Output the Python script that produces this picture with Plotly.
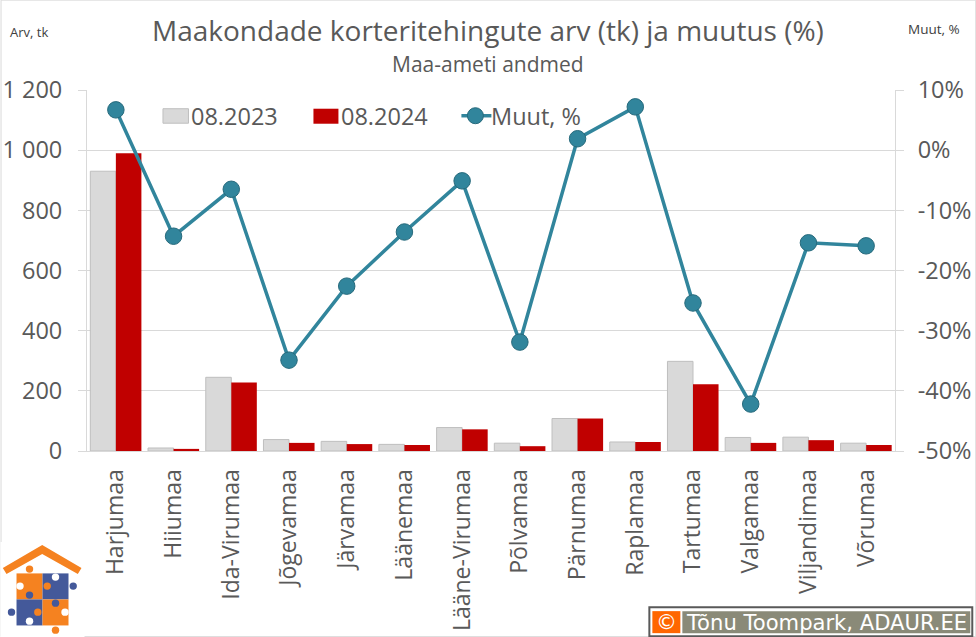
import plotly.graph_objects as go

categories = ["Harjumaa", "Hiiumaa", "Ida-Virumaa", "Jõgevamaa", "Järvamaa", "Läänemaa", "Lääne-Virumaa",
              "Põlvamaa", "Pärnumaa", "Raplamaa", "Tartumaa", "Valgamaa", "Viljandimaa", "Võrumaa"]
v2023 = [930, 10, 245, 38, 32, 22, 78, 26, 108, 30, 298, 45, 46, 26]
v2024 = [990, 7, 228, 27, 23, 20, 72, 16, 108, 30, 222, 27, 36, 20]
muut = [6.7, -14.3, -6.5, -34.9, -22.6, -13.6, -5.1, -31.9, 1.9, 7.2, -25.4, -42.2, -15.4, -15.9]
left_ticks = [0, 200, 400, 600, 800, 1000, 1200]
left_labels = ["0", "200", "400", "600", "800", "1 000", "1 200"]
right_ticks = [-50, -40, -30, -20, -10, 0, 10]
right_labels = ["-50%", "-40%", "-30%", "-20%", "-10%", "0%", "10%"]
names = ["08.2023", "08.2024", "Muut, %"]

W, H = 976, 637
L, R, T, B = 86.5, 894.7, 90.3, 451
FONT = "Open Sans"
GREY = "#595959"
GRID = "#d9d9d9"
ORANGE = "#f58220"
BLUE = "#44599a"
TEAL = "#31859c"


def px(x):
    return (x - L) / (R - L)


def py(y):
    return (B - y) / (B - T)


def rect(x0, y0, x1, y1, fill, line=None, lw=0):
    return dict(type="rect", xref="paper", yref="paper", x0=px(x0), x1=px(x1), y0=py(y0), y1=py(y1),
                fillcolor=fill, line=dict(color=line or fill, width=lw), layer="above")


def circ(cx, cy, r, fill, line=None, lw=0):
    return dict(type="circle", xref="paper", yref="paper", x0=px(cx - r), x1=px(cx + r), y0=py(cy - r),
                y1=py(cy + r), fillcolor=fill, line=dict(color=line or fill, width=lw), layer="above")


def poly(points, fill):
    d = "M" + " L".join(f"{px(a):.5f},{py(b):.5f}" for a, b in points) + " Z"
    return dict(type="path", xref="paper", yref="paper", path=d, fillcolor=fill, line=dict(width=0), layer="above")


def label(text, x, y, size, color=GREY, family=FONT, xanchor="left"):
    return dict(text=text, x=px(x), y=py(y), xref="paper", yref="paper", showarrow=False, xanchor=xanchor,
                yanchor="middle", font=dict(family=family, size=size, color=color))


fig = go.Figure()
fig.add_bar(x=categories, y=v2023, name=names[0], marker=dict(color=GRID, line=dict(color="#bfbfbf", width=1)))
fig.add_bar(x=categories, y=v2024, name=names[1], marker=dict(color="#c00000", line=dict(width=0)))
fig.add_scatter(x=categories, y=muut, name=names[2], yaxis="y2", mode="lines+markers",
                line=dict(color=TEAL, width=3.5),
                marker=dict(color=TEAL, size=16.5, line=dict(color="#276a7c", width=1)))

shapes = [
    dict(type="rect", xref="paper", yref="paper", x0=px(0.5), x1=px(975.5), y0=py(0.5), y1=py(636.5),
         fillcolor="rgba(0,0,0,0)", line=dict(color=GRID, width=1), layer="below"),
    # legend keys
    rect(162.5, 109, 188, 123.5, GRID, "#bfbfbf", 1),
    rect(313, 109, 338, 124, "#c00000"),
    dict(type="line", xref="paper", yref="paper", x0=px(461), x1=px(491), y0=py(116), y1=py(116),
         line=dict(color=TEAL, width=3.5), layer="above"),
    circ(475, 116, 8, TEAL, "#276a7c", 1),
    # logo
    rect(0, 542, 84, 637, "white"),
    poly([(2.3, 568), (41.7, 545), (81, 568), (77.3, 574), (41.7, 554), (6, 574)], ORANGE),
    rect(16, 573.3, 42, 599.3, ORANGE),
    rect(42, 573.3, 68, 599.3, BLUE),
    rect(16, 599.3, 42, 625.3, BLUE),
    rect(42, 599.3, 68, 625.3, ORANGE),
    circ(29, 569, 3.7, ORANGE),
    circ(55, 577, 3.7, "white"),
    circ(72.7, 586, 3.7, BLUE),
    circ(19.5, 586, 3.7, "white"),
    circ(46.7, 586, 3.7, ORANGE),
    circ(29, 595, 3.7, BLUE),
    circ(11, 612, 3.7, BLUE),
    circ(64.5, 612, 3.7, "white"),
    circ(37.3, 612, 3.7, ORANGE),
    circ(55, 603, 3.7, BLUE),
    circ(29, 621, 3.7, "white"),
    circ(55, 630, 3.7, ORANGE),
    # credit box
    rect(649, 607, 972, 636, "white", "#595959", 2),
    rect(652, 611, 680, 633, "#ff6600"),
    rect(682, 611, 970, 633, "#8a8a78"),
]

annotations = [
    label("Maakondade korteritehingute arv (tk) ja muutus (%)", 488, 30, 28, xanchor="center"),
    label("Maa-ameti andmed", 488, 64, 21, xanchor="center"),
    label("Arv, tk", 7, 32, 13, "#404040"),
    label("Muut, %", 906, 29, 13.5, "#404040"),
    label(names[0], 189, 116, 23.5),
    label(names[1], 339, 116, 23.5),
    label(names[2], 489, 116, 23.5),
    label("©", 666, 622, 21, "white", "DejaVu Sans", "center"),
    label("Tõnu Toompark, ADAUR.EE", 684, 622, 21.1, "white", "DejaVu Sans"),
]

fig.update_layout(
    width=W, height=H, autosize=False,
    margin=dict(l=L, r=W - R, t=T, b=H - B, pad=0),
    paper_bgcolor="white", plot_bgcolor="white",
    barmode="group", bargap=0.115, bargroupgap=0,
    font=dict(family=FONT, color=GREY),
    showlegend=False,
    shapes=shapes, annotations=annotations,
    xaxis=dict(type="category", categoryorder="array", categoryarray=categories, range=[-0.5, 13.5], tickangle=-90,
               ticks="", automargin=False, showgrid=False, showline=True, linecolor=GRID, linewidth=1, zeroline=False,
               tickfont=dict(family=FONT, size=23, color=GREY), ticklabelstandoff=8),
    yaxis=dict(range=[0, 1200], tickvals=left_ticks, ticktext=left_labels, ticks="outside", ticklen=8, tickcolor=GRID,
               tickwidth=1, automargin=False, showgrid=True, gridcolor=GRID, gridwidth=1, showline=True, linecolor=GRID,
               linewidth=1, zeroline=False, tickfont=dict(family=FONT, size=23.5, color=GREY), ticklabelstandoff=11),
    yaxis2=dict(range=[-50, 10], tickvals=right_ticks, ticktext=right_labels, overlaying="y", side="right",
                ticks="outside", ticklen=8, tickcolor=GRID, tickwidth=1, automargin=False, showgrid=False,
                showline=True, linecolor=GRID, linewidth=1, zeroline=False,
                tickfont=dict(family=FONT, size=23.5, color=GREY), ticklabelstandoff=9),
)

fig.write_html("out.html", config={"displayModeBar": False},
               post_script="document.body.style.margin='0';document.documentElement.style.overflow='hidden';")
